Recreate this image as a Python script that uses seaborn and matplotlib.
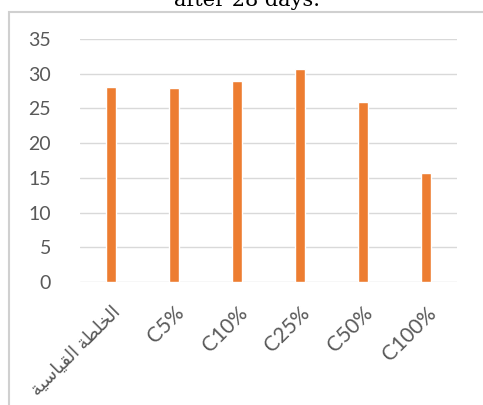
import matplotlib
matplotlib.use('Agg')
import matplotlib.pyplot as plt
import matplotlib.patches as mpatches
import pandas as pd
import seaborn as sns

# logical label: 'الخلطة القياسية' (written here in shaped, visual order
# because matplotlib does not do Arabic shaping)
mixes = ['\ufe94\ufef4\ufeb3\ufe8e\ufef4\ufed8\ufedf\ufe8d \ufe94\ufec4\ufee0\ufea8\ufedf\ufe8d',
         'C5%', 'C10%', 'C25%', 'C50%', 'C100%']
strength = [28.1, 27.9, 28.9, 30.7, 25.9, 15.7]
y_ticks = [0, 5, 10, 15, 20, 25, 30, 35]

df = pd.DataFrame({'mix': mixes, 'strength': strength})

sns.set_theme(style='white')
plt.rcParams['font.family'] = ['Lato', 'DejaVu Sans']

fig = plt.figure(figsize=(4.83, 4.05), dpi=100)
ax = fig.add_axes([80 / 483, 1 - 282 / 405, 377 / 483, 243 / 405])

sns.barplot(data=df, x='mix', y='strength', color='#ED7D31', saturation=1,
            width=0.16, ax=ax)

ax.set_ylim(0, 35)
ax.set_xlim(-0.5, len(mixes) - 0.5)
ax.set_yticks(y_ticks)
ax.yaxis.grid(True, color='#D9D9D9', linewidth=1)
ax.set_axisbelow(True)
for s in ax.spines.values():
    s.set_visible(False)
ax.set_xlabel('')
ax.set_ylabel('')
ax.tick_params(axis='both', length=0, colors='#595959')
ax.tick_params(axis='y', pad=21, labelsize=14)
ax.tick_params(axis='x', pad=15, labelsize=15)
for i, lbl in enumerate(ax.get_xticklabels()):
    lbl.set_rotation(45)
    lbl.set_ha('right')
    lbl.set_rotation_mode('anchor')
    if i == 0:
        lbl.set_fontsize(13)

# chart frame (runs off the right and bottom edges)
fig.patches.append(mpatches.Rectangle((9 / 483, -0.1), 1.2, 1 - 12 / 405 + 0.1,
                                      transform=fig.transFigure, fill=False,
                                      edgecolor='#D0D0D0', linewidth=1.5))

fig.text(247 / 483, 1 - 6 / 405, 'after 28 days.', ha='center', va='baseline',
         family='DejaVu Serif', fontsize=15, color='black')

fig.savefig('out.png', dpi=100)
